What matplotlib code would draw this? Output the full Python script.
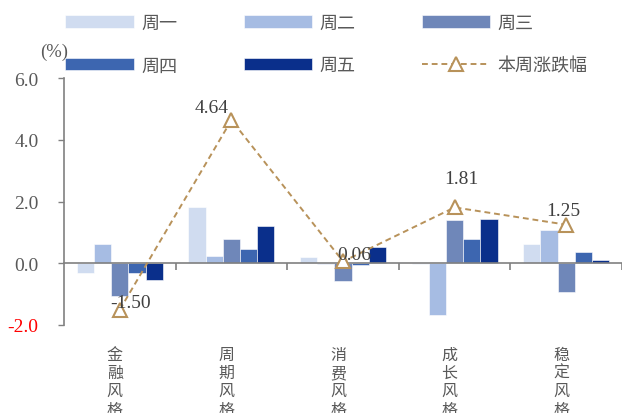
import matplotlib.pyplot as plt
import numpy as np

categories = ['金融风格', '周期风格', '消费风格', '成长风格', '稳定风格']
days = ['周一', '周二', '周三', '周四', '周五']
mon = [-0.32, 1.81, 0.19, -0.02, 0.62]
tue = [0.63, 0.22, -0.02, -1.67, 1.09]
wed = [-1.05, 0.79, -0.56, 1.41, -0.92]
thu = [-0.30, 0.45, -0.06, 0.77, 0.35]
fri = [-0.55, 1.21, 0.52, 1.43, 0.11]
week = [-1.50, 4.64, 0.06, 1.81, 1.25]
yticks = [-2.0, 0.0, 2.0, 4.0, 6.0]

colors = ['#D0DCF0', '#A6BCE3', '#6F87B9', '#3D66B0', '#0A2F8B']
line_color = '#B8925A'
grey = '#595959'

plt.rcParams['font.family'] = ['Liberation Serif', 'Noto Sans CJK SC']

fig = plt.figure(figsize=(6.22, 4.14), dpi=100)
ax = fig.add_axes([0.103, 0.2126, 0.897, 0.5964])

x = np.arange(len(categories))
w = 0.154
bars = []
for k, vals in enumerate([mon, tue, wed, thu, fri]):
    b = ax.bar(x + (k - 2) * w, vals, w, color=colors[k], label=days[k],
               edgecolor='white', linewidth=0.4, zorder=2)
    bars.append(b)

ln, = ax.plot(x, week, linestyle=(0, (3, 2)), color=line_color, lw=1.4,
              marker='^', markersize=10, markerfacecolor='white',
              markeredgecolor=line_color, markeredgewidth=1.5, zorder=3,
              label='本周涨跌幅')

# label offsets in points (dx, dy)
offsets = [(8, 5), (-14, 9), (8, 5), (5, 21), (-2, 10)]
for xi, v, off in zip(x, week, offsets):
    ax.annotate(f'{v:.2f}', (xi, v), xytext=off, textcoords='offset points',
                ha='center', va='center', fontsize=14, color='#404040',
                family='Liberation Serif', zorder=4)

ax.set_xlim(-0.5, 4.5)
ax.set_ylim(-2, 6)
ax.set_yticks(yticks)
ax.set_yticklabels([f'{t:.1f}' for t in yticks], fontsize=14, color=grey)
ax.get_yticklabels()[0].set_color('red')
ax.tick_params(axis='y', direction='out', length=4.3, color='#808080', width=1, pad=14)

ax.spines['top'].set_visible(False)
ax.spines['right'].set_visible(False)
ax.spines['left'].set_color('#808080')
ax.spines['left'].set_linewidth(1.2)
ax.spines['bottom'].set_position(('data', 0))
ax.spines['bottom'].set_color('#808080')
ax.spines['bottom'].set_linewidth(1.2)
ax.set_xticks(x + 0.5)
ax.set_xticklabels([])
ax.tick_params(axis='x', direction='out', length=5, color='#808080', width=1.2)

# vertical category names, clipped at the bottom edge as in the source
for xi, cat in zip(x, categories):
    ax.text(xi - 0.045, -0.085, '\n'.join(cat), transform=ax.get_xaxis_transform(),
            ha='center', va='top', fontsize=11.5, color=grey,
            family='Noto Sans CJK SC', linespacing=1.09)

fig.text(0.110, 0.874, '(%)', ha='right', va='center', fontsize=13.4, color=grey)

handles = [bars[0], bars[3], bars[1], bars[4], bars[2], ln]
labels = ['周一', '周四', '周二', '周五', '周三', '本周涨跌幅']
leg = fig.legend(handles, labels, ncol=3, loc='upper left',
                 bbox_to_anchor=(0.082, 1.0), frameon=False,
                 prop={'family': 'Noto Sans CJK SC', 'size': 13},
                 handlelength=3.78, handleheight=0.72, handletextpad=0.4,
                 columnspacing=3.7, labelspacing=1.38, numpoints=1,
                 borderpad=0.3)
for t in leg.get_texts():
    t.set_color(grey)

fig.savefig('out.png', dpi=100)
